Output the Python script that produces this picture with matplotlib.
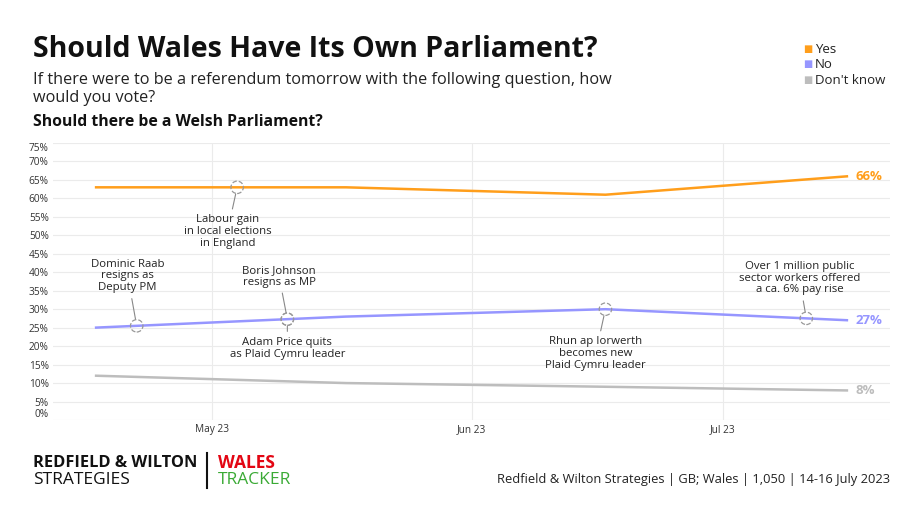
import matplotlib
matplotlib.use("Agg")
import matplotlib.pyplot as plt
import matplotlib.dates as mdates
import numpy as np
import pandas as pd

# Poll data (Wales tracker)
dates = pd.to_datetime(["2023-04-17", "2023-05-17", "2023-06-17", "2023-07-16"])
yes = [63, 63, 61, 66]
no = [25, 28, 30, 27]
dont_know = [12, 10, 9, 8]

series_names = ["Yes", "No", "Don't know"]
series_colors = ["#FF9E1B", "#9696FF", "#BDBDBD"]

# Events marked on the chart: (date, series index, text, offset in points)
event_dates = pd.to_datetime(["2023-04-22", "2023-05-04", "2023-05-10",
                              "2023-05-10", "2023-06-17", "2023-07-11"])
event_series = [1, 0, 1, 1, 1, 1]
event_texts = [
    "Dominic Raab\nresigns as\nDeputy PM",
    "Labour gain\nin local elections\nin England",
    "Boris Johnson\nresigns as MP",
    "Adam Price quits\nas Plaid Cymru leader",
    "Rhun ap Iorwerth\nbecomes new\nPlaid Cymru leader",
    "Over 1 million public\nsector workers offered\na ca. 6% pay rise",
]
event_offsets = [(-6.5, 36), (-7, -32), (-6, 31), (0, -21), (-7, -32), (-5, 29)]

yticks = list(range(0, 80, 5))

plt.rcParams['font.family'] = ['Open Sans', 'DejaVu Sans']
text_dark = "#222222"

fig = plt.figure(figsize=(9.2, 5.17), dpi=100)
ax = fig.add_axes([53 / 920, 1 - 420 / 517, (890 - 53) / 920, (420 - 143) / 517])

all_values = [yes, no, dont_know]
for vals, name, col in zip(all_values, series_names, series_colors):
    ax.plot(dates, vals, color=col, lw=1.8, solid_capstyle='butt', zorder=3)
    ax.annotate(f"{vals[-1]}%", xy=(dates[-1], vals[-1]), xytext=(5, 0),
                textcoords='offset points', va='center', ha='left',
                color=col, fontsize=9.5, fontweight='bold')

# event markers
xnum = mdates.date2num(dates)
for d, si, txt, off in zip(event_dates, event_series, event_texts, event_offsets):
    dn = mdates.date2num(d)
    yv = np.interp(dn, xnum, all_values[si])
    ax.scatter([d], [yv], s=80, facecolors='none', edgecolors='#999999',
               linestyles='--', linewidths=0.9, zorder=4)
    ax.annotate(txt, xy=(d, yv), xytext=off, textcoords='offset points',
                ha='center', va='center', multialignment='center',
                fontsize=8.2, color=text_dark, linespacing=1.1, zorder=5,
                arrowprops=dict(arrowstyle='-', color='#888888', lw=0.8,
                                shrinkA=2, shrinkB=5))

ax.set_xlim(pd.Timestamp("2023-04-12"), pd.Timestamp("2023-07-21"))
ax.set_ylim(0, 75)
ax.set_yticks(yticks)
ax.set_yticklabels([f"{t}%" for t in yticks])
ax.xaxis.set_major_locator(mdates.MonthLocator())
ax.xaxis.set_major_formatter(mdates.DateFormatter("%b %y"))
ax.tick_params(length=0, labelsize=7.3, labelcolor="#333333", pad=3)
ax.grid(True, color="#EBEBEB", lw=0.8, zorder=0)
for s in ax.spines.values():
    s.set_visible(False)
ax.set_axisbelow(True)

# nudge edge labels like the original
ylabels = ax.get_yticklabels()
ylabels[0].set_va('bottom')
ylabels[-1].set_va('top')

# titles
fig.text(33 / 920, 1 - 50 / 517, "Should Wales Have Its Own Parliament?",
         fontsize=20.5, fontweight='bold', color="#111111", va='center')
fig.text(33 / 920, 1 - 89 / 517,
         "If there were to be a referendum tomorrow with the following question, how\nwould you vote?",
         fontsize=11.7, color=text_dark, va='center', linespacing=1.1)
fig.text(33 / 920, 1 - 122 / 517, "Should there be a Welsh Parliament?",
         fontsize=11.3, fontweight='bold', color="#111111", va='center')

# legend
for i, (name, col) in enumerate(zip(series_names, series_colors)):
    yy = 1 - (50 + 15 * i) / 517
    fig.text(803 / 920, yy, "\u25A0", color=col, fontsize=7, va='center')
    fig.text(815 / 920, yy, name, color=text_dark, fontsize=9.5, va='center')

# footer
fig.text(33 / 920, 1 - 462 / 517, "REDFIELD & WILTON", fontsize=11.8,
         fontweight='bold', color="#111111", va='baseline', transform=fig.transFigure)
fig.texts[-1].set_y(1 - 467 / 517)
fig.text(33 / 920, 1 - 484 / 517, "STRATEGIES", fontsize=12.5,
         color="#111111", va='baseline')
fig.add_artist(plt.Line2D([207 / 920, 207 / 920], [1 - 453 / 517, 1 - 488 / 517],
                          color="#111111", lw=1.5))
fig.text(218 / 920, 1 - 468 / 517, "WALES", fontsize=12.5, fontweight='bold',
         color="#E30613", va='baseline')
fig.text(218 / 920, 1 - 484 / 517, "TRACKER", fontsize=12.5,
         color="#3AAA35", va='baseline')
fig.text(890 / 920, 1 - 480 / 517,
         "Redfield & Wilton Strategies | GB; Wales | 1,050 | 14-16 July 2023",
         fontsize=9.3, color=text_dark, va='center', ha='right')

fig.savefig("out.png", dpi=100)
